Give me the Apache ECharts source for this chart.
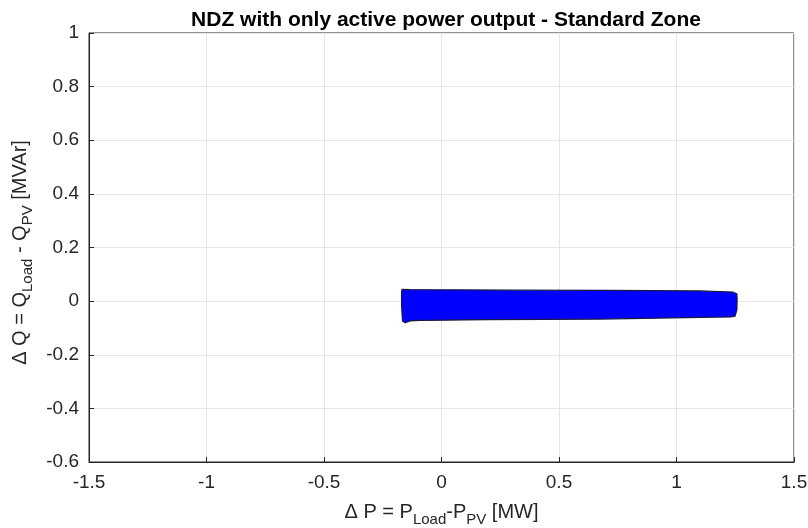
<!DOCTYPE html>
<html>
<head>
<meta charset="utf-8">
<script src="https://cdn.jsdelivr.net/npm/echarts@6/dist/echarts.min.js"></script>
<style>html,body{margin:0;padding:0;background:#fff}#c{width:808px;height:528px}</style>
</head>
<body>
<div id="c"></div>
<script>
// NDZ region outline (ΔP [MW], ΔQ [MVAr]) traced clockwise
const ndzP = [-0.170, -0.168, -0.134, 0.30, 0.70, 1.10, 1.24, 1.257, 1.258, 1.257, 1.249, 1.232, 0.674, 0.20, -0.091, -0.134, -0.155, -0.166, -0.170];
const ndzQ = [0.034, 0.044, 0.043, 0.041, 0.040, 0.038, 0.034, 0.027, 0.004, -0.033, -0.056, -0.059, -0.067, -0.069, -0.072, -0.074, -0.081, -0.074, -0.015];
const xTicks = [-1.5, -1, -0.5, 0, 0.5, 1, 1.5];
const yTicks = [-0.6, -0.4, -0.2, 0, 0.2, 0.4, 0.6, 0.8, 1];

const font = 'Liberation Sans, Arial, sans-serif';
const fmt = v => String(parseFloat(Number(v).toFixed(2)));
const chart = echarts.init(document.getElementById('c'), null, {renderer: 'canvas'});
chart.setOption({
  animation: false,
  backgroundColor: '#ffffff',
  title: {
    text: 'NDZ with only active power output - Standard Zone',
    left: 441, top: 5, textAlign: 'center',
    textStyle: {fontFamily: font, fontSize: 21, fontWeight: 'bold', color: '#000'}
  },
  grid: {left: 89, right: 14, top: 33, bottom: 66, outerBoundsMode: 'none', containLabel: false,
    show: true, borderColor: '#262626', borderWidth: 1, backgroundColor: 'transparent'},
  xAxis: {
    type: 'value', min: xTicks[0], max: xTicks[xTicks.length - 1], interval: 0.5,
    axisLine: {show: true, onZero: false, lineStyle: {color: '#262626'}},
    axisTick: {show: true, inside: true, length: 5, lineStyle: {color: '#262626'}},
    axisLabel: {formatter: fmt, fontFamily: font, fontSize: 19, color: '#262626', margin: 11},
    splitLine: {show: true, lineStyle: {color: '#e6e6e6', width: 1}},
    name: '{n|Δ P = P}{s|Load}{n|-P}{s|PV}{n| [MW]}',
    nameLocation: 'middle', nameGap: 35,
    nameTextStyle: {rich: {
      n: {fontFamily: font, fontSize: 20, color: '#262626'},
      s: {fontFamily: font, fontSize: 15, color: '#262626', verticalAlign: 'bottom', padding: [15, 0, 0, 0]}
    }}
  },
  yAxis: {
    type: 'value', min: yTicks[0], max: yTicks[yTicks.length - 1], interval: 0.2,
    axisLine: {show: true, onZero: false, lineStyle: {color: '#262626'}},
    axisTick: {show: true, inside: true, length: 5, lineStyle: {color: '#262626'}},
    axisLabel: {formatter: fmt, fontFamily: font, fontSize: 19, color: '#262626', margin: 10},
    splitLine: {show: true, lineStyle: {color: '#e6e6e6', width: 1}},
    name: '{n|Δ Q = Q}{s|Load}{n| - Q}{s|PV}{n| [MVAr]}',
    nameLocation: 'middle', nameGap: 52, nameRotate: 90,
    nameTextStyle: {padding: [0, 10, 0, 0], rich: {
      n: {fontFamily: font, fontSize: 20, color: '#262626'},
      s: {fontFamily: font, fontSize: 15, color: '#262626', verticalAlign: 'bottom', padding: [15, 0, 0, 0]}
    }}
  },
  series: [{
    type: 'custom',
    coordinateSystem: 'cartesian2d',
    clip: true,
    data: ndzP.map((p, i) => [p, ndzQ[i]]),
    encode: {x: 0, y: 1},
    renderItem: function (params, api) {
      if (params.dataIndex !== 0) return null;
      const pts = ndzP.map((p, i) => api.coord([p, ndzQ[i]]));
      return {
        type: 'polygon',
        shape: {points: pts, smooth: 0},
        style: {fill: '#0000ff', stroke: '#1a1a40', lineWidth: 1.2}
      };
    }
  }]
});
</script>
</body>
</html>
